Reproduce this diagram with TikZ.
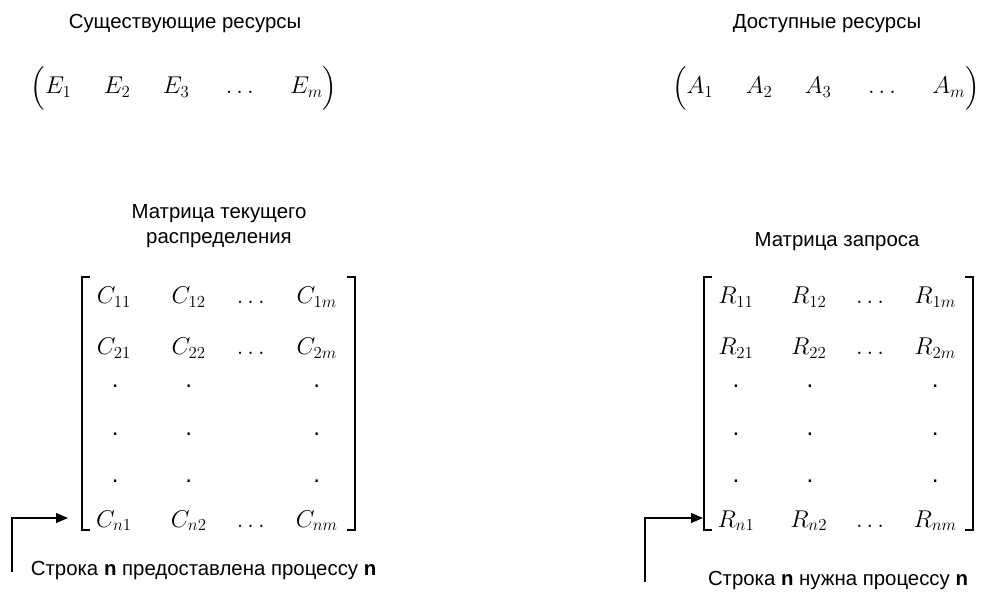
\documentclass[tikz,border=0pt]{standalone}
\usepackage[no-math]{fontspec}
\setmainfont{Liberation Sans}
\usepackage{amsmath}
\usetikzlibrary{arrows.meta}

\newcommand{\vecgap}{\hspace{23pt}}

\begin{document}
\begin{tikzpicture}[
        heading/.style={font=\fontsize{14.5}{17.8}\selectfont, align=center},
        entry/.style={anchor=base, inner sep=0pt, font=\fontsize{17.28}{20}\selectfont},
        bracket/.style={line width=0.9pt},
        pointer/.style={line width=0.9pt, -{Triangle[length=8.5pt,width=7pt]}}
    ]
        \useasboundingbox (0,0) rectangle (24.6,-14.85);

        % Resource vectors
        \node[heading, anchor=base, inner sep=0pt] (exist_title) at (4.625,-0.725) {Существующие ресурсы};
        \node[entry] (exist_vec) at (4.6,-2.35) {$\Big(E_1\vecgap E_2\vecgap E_3\vecgap \dots\vecgap E_m\Big)$};

        \node[heading, anchor=base, inner sep=0pt] (avail_title) at (20.675,-0.725) {Доступные ресурсы};
        \node[entry] (avail_vec) at (20.65,-2.35) {$\Big(A_1\vecgap A_2\vecgap A_3\vecgap \dots\vecgap A_m\Big)$};

        % Current allocation matrix
        \node[heading] (alloc_title) at (5.475,-5.65) {Матрица текущего\\распределения};
        \node[entry] (alloc_11) at (2.85,-7.6) {$C_{11}$};
        \node[entry] (alloc_12) at (4.72,-7.6) {$C_{12}$};
        \node[entry] (alloc_1d) at (6.32,-7.6) {$\dots$};
        \node[entry] (alloc_1m) at (7.92,-7.6) {$C_{1m}$};
        \node[entry] (alloc_21) at (2.85,-8.875) {$C_{21}$};
        \node[entry] (alloc_22) at (4.72,-8.875) {$C_{22}$};
        \node[entry] (alloc_2d) at (6.32,-8.875) {$\dots$};
        \node[entry] (alloc_2m) at (7.92,-8.875) {$C_{2m}$};
        \node[entry] (alloc_a1) at (2.88,-9.7) {.};
        \node[entry] (alloc_a2) at (4.72,-9.7) {.};
        \node[entry] (alloc_a4) at (7.92,-9.7) {.};
        \node[entry] (alloc_b1) at (2.88,-10.875) {.};
        \node[entry] (alloc_b2) at (4.72,-10.875) {.};
        \node[entry] (alloc_b4) at (7.92,-10.875) {.};
        \node[entry] (alloc_c1) at (2.88,-12.05) {.};
        \node[entry] (alloc_c2) at (4.72,-12.05) {.};
        \node[entry] (alloc_c4) at (7.92,-12.05) {.};
        \node[entry] (alloc_n1) at (2.85,-13.175) {$C_{n1}$};
        \node[entry] (alloc_n2) at (4.72,-13.175) {$C_{n2}$};
        \node[entry] (alloc_nd) at (6.32,-13.175) {$\dots$};
        \node[entry] (alloc_nm) at (7.92,-13.175) {$C_{nm}$};
        \draw[bracket] (2.25,-6.925) -- (2.05,-6.925) -- (2.05,-13.25) -- (2.25,-13.25);
        \draw[bracket] (8.675,-6.925) -- (8.875,-6.925) -- (8.875,-13.25) -- (8.675,-13.25);

        % Request matrix
        \node[heading, anchor=base, inner sep=0pt] (req_title) at (20.925,-6.175) {Матрица запроса};
        \node[entry] (req_11) at (18.4,-7.6) {$R_{11}$};
        \node[entry] (req_12) at (20.22,-7.6) {$R_{12}$};
        \node[entry] (req_1d) at (21.8,-7.6) {$\dots$};
        \node[entry] (req_1m) at (23.38,-7.6) {$R_{1m}$};
        \node[entry] (req_21) at (18.4,-8.875) {$R_{21}$};
        \node[entry] (req_22) at (20.22,-8.875) {$R_{22}$};
        \node[entry] (req_2d) at (21.8,-8.875) {$\dots$};
        \node[entry] (req_2m) at (23.38,-8.875) {$R_{2m}$};
        \node[entry] (req_a1) at (18.4,-9.7) {.};
        \node[entry] (req_a2) at (20.25,-9.7) {.};
        \node[entry] (req_a4) at (23.38,-9.7) {.};
        \node[entry] (req_b1) at (18.4,-10.875) {.};
        \node[entry] (req_b2) at (20.25,-10.875) {.};
        \node[entry] (req_b4) at (23.38,-10.875) {.};
        \node[entry] (req_c1) at (18.4,-12.05) {.};
        \node[entry] (req_c2) at (20.25,-12.05) {.};
        \node[entry] (req_c4) at (23.38,-12.05) {.};
        \node[entry] (req_n1) at (18.4,-13.175) {$R_{n1}$};
        \node[entry] (req_n2) at (20.22,-13.175) {$R_{n2}$};
        \node[entry] (req_nd) at (21.8,-13.175) {$\dots$};
        \node[entry] (req_nm) at (23.38,-13.175) {$R_{nm}$};
        \draw[bracket] (17.8,-6.925) -- (17.6,-6.925) -- (17.6,-13.25) -- (17.8,-13.25);
        \draw[bracket] (24.125,-6.925) -- (24.325,-6.925) -- (24.325,-13.25) -- (24.125,-13.25);

        % Row n pointers
        \coordinate (alloc_from) at (0.3,-14.3);
        \coordinate (alloc_to) at (1.7,-12.95);
        \draw[pointer] (alloc_from) |- (alloc_to);
        \node[heading, anchor=base, inner sep=0pt] (alloc_note) at (5.09,-14.375) {Строка \textbf{n} предоставлена процессу \textbf{n}};

        \coordinate (req_from) at (16.125,-14.55);
        \coordinate (req_to) at (17.575,-12.95);
        \draw[pointer] (req_from) |- (req_to);
        \node[heading, anchor=base, inner sep=0pt] (req_note) at (20.95,-14.625) {Строка \textbf{n} нужна процессу \textbf{n}};

    \end{tikzpicture}
\end{document}
